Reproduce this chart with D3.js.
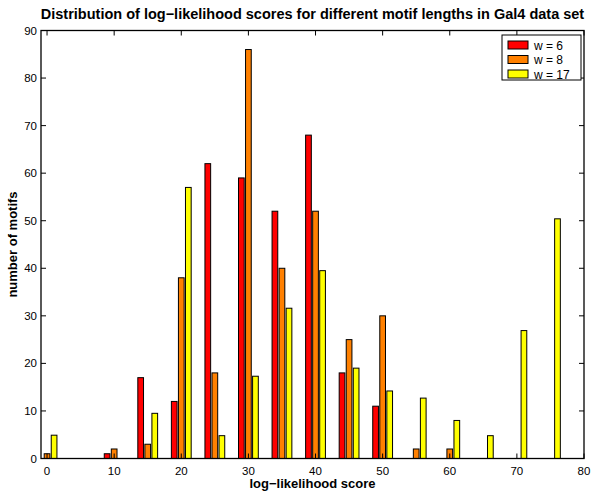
<!DOCTYPE html>
<html>
<head>
<meta charset="utf-8">
<script src="https://cdn.jsdelivr.net/npm/d3@7"></script>
<style>
  body { margin: 0; background: #fff; }
  text { font-family: "Liberation Sans", Arial, sans-serif; }
</style>
</head>
<body>
<svg id="chart" width="591" height="493"></svg>
<script>
// bin centres (log-likelihood score)
var bins = [0, 5, 10, 15, 20, 25, 30, 35, 40, 45, 50, 55, 60, 65, 70, 75];
var seriesNames = ["w = 6", "w = 8", "w = 17"];
var seriesColors = ["#ff0000", "#ff8000", "#ffff00"];
var w6  = [0, 0, 1, 17, 12, 62, 59, 52, 68, 18, 11, 0, 0, 0, 0, 0];
var w8  = [1, 0, 2, 3, 38, 18, 86, 40, 52, 25, 30, 2, 2, 0, 0, 0];
var w17 = [4.9, 0, 0, 9.5, 57, 4.8, 17.3, 31.6, 39.5, 19, 14.2, 12.7, 8, 4.8, 26.9, 50.4];
var xTicks = [0, 10, 20, 30, 40, 50, 60, 70, 80];
var yTicks = [0, 10, 20, 30, 40, 50, 60, 70, 80, 90];

var svg = d3.select("#chart");
var pLeft = 41, pRight = 584, pTop = 30.5, pBottom = 458.5;

var x = d3.scaleLinear().domain([-0.9, 80]).range([pLeft, pRight]);
var y = d3.scaleLinear().domain([0, 90]).range([pBottom, pTop]);

var allSeries = [w6, w8, w17];
var offsets = [-1.05, 0, 1.05];
var barW = 0.85;

// bars
allSeries.forEach(function (vals, si) {
  svg.append("g").selectAll("rect")
    .data(vals)
    .enter().append("rect")
    .attr("x", function (d, i) { return x(bins[i] + offsets[si] - barW / 2); })
    .attr("width", x(barW) - x(0))
    .attr("y", function (d) { return y(d); })
    .attr("height", function (d) { return y(0) - y(d); })
    .style("fill", seriesColors[si])
    .style("stroke", "#000")
    .style("stroke-width", "1px");
});

// axes box, ticks inside
var g = svg.append("g").style("font-size", "11.5px");

g.append("rect")
  .attr("x", pLeft).attr("y", pTop)
  .attr("width", pRight - pLeft).attr("height", pBottom - pTop)
  .style("fill", "none").style("stroke", "#000").style("stroke-width", "1.3px");

var tickLen = 5;
xTicks.forEach(function (t) {
  g.append("line").attr("x1", x(t)).attr("x2", x(t)).attr("y1", pBottom).attr("y2", pBottom - tickLen).style("stroke", "#000");
  g.append("line").attr("x1", x(t)).attr("x2", x(t)).attr("y1", pTop).attr("y2", pTop + tickLen).style("stroke", "#000");
  g.append("text").attr("x", x(t)).attr("y", pBottom + 16)
    .attr("text-anchor", "middle").text(t);
});
yTicks.forEach(function (t) {
  g.append("line").attr("x1", pLeft).attr("x2", pLeft + tickLen).attr("y1", y(t)).attr("y2", y(t)).style("stroke", "#000");
  g.append("line").attr("x1", pRight).attr("x2", pRight - tickLen).attr("y1", y(t)).attr("y2", y(t)).style("stroke", "#000");
  g.append("text").attr("x", pLeft - 4).attr("y", y(t) + 4)
    .attr("text-anchor", "end").text(t);
});

// labels
svg.append("text")
  .attr("x", (pLeft + pRight) / 2).attr("y", 19)
  .attr("text-anchor", "middle")
  .style("font-size", "14.5px").style("font-weight", "bold")
  .text("Distribution of log\u2212likelihood scores for different motif lengths in Gal4 data set");

svg.append("text")
  .attr("x", (pLeft + pRight) / 2).attr("y", 488)
  .attr("text-anchor", "middle")
  .style("font-size", "13px").style("font-weight", "bold")
  .text("log\u2212likelihood score");

svg.append("text")
  .attr("transform", "translate(17," + (pTop + pBottom) / 2 + ") rotate(-90)")
  .attr("text-anchor", "middle")
  .style("font-size", "13px").style("font-weight", "bold")
  .text("number of motifs");

// legend
var lg = svg.append("g").attr("transform", "translate(502,35)");
lg.append("rect").attr("width", 79).attr("height", 45)
  .style("fill", "#fff").style("stroke", "#000");
seriesNames.forEach(function (name, i) {
  lg.append("rect").attr("x", 6).attr("y", 6 + i * 14.5).attr("width", 20).attr("height", 8)
    .style("fill", seriesColors[i]).style("stroke", "#000");
  lg.append("text").attr("x", 32).attr("y", 14.5 + i * 14.5)
    .style("font-size", "12px").text(name);
});
</script>
</body>
</html>
